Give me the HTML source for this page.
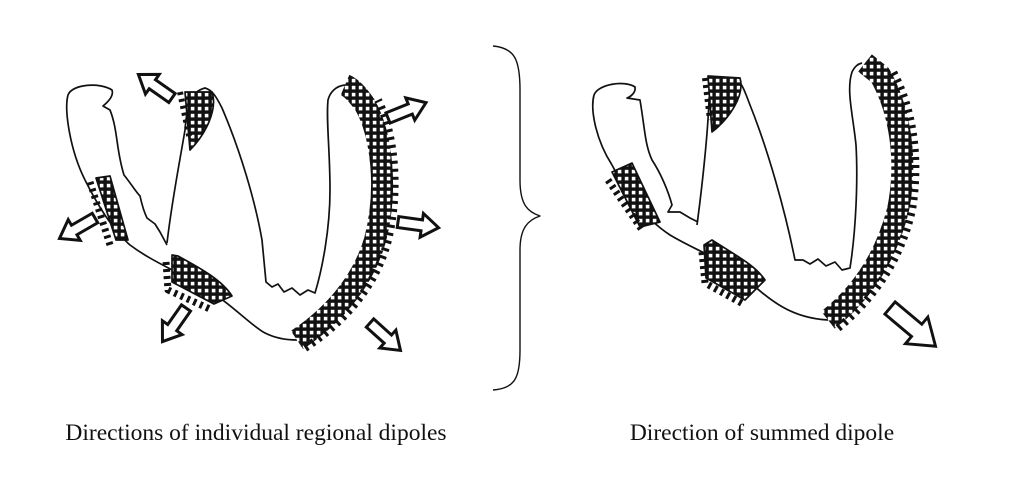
<!DOCTYPE html>
<html><head><meta charset="utf-8"><style>
html,body{margin:0;padding:0;background:#fff;width:1024px;height:483px;overflow:hidden}
svg{position:absolute;left:0;top:0}
.t{font-family:"Liberation Serif",serif;font-size:23.5px;fill:#111}
</style></head><body>
<svg width="1024" height="483" viewBox="0 0 1024 483">
<defs>
<pattern id="g" width="7" height="7" patternUnits="userSpaceOnUse">
<rect width="7" height="7" fill="#111"/><rect x="1.8" y="1.8" width="3.6" height="3.6" fill="#fff"/>
</pattern>
<g id="arr"><path d="M0,-5.5 L24,-5.5 L24,-12 L41,0 L24,12 L24,5.5 L0,5.5 Z" fill="#fff" stroke="#111" stroke-width="3" stroke-linejoin="miter"/></g>
</defs>
<g fill="none" stroke="#111" stroke-width="1.7" stroke-linejoin="round">
<!-- LEFT HEART -->
<path d="M85,180 C70,150 64,110 68,95 C72,84 100,82 112,90 C114,96 108,102 103,106 L110,110 C118,130 116,150 124,175 C132,185 136,192 140,196 C142,205 144,212 147,218 L155,224 L160,232 L167,245"/>
<path d="M85,180 C100,210 115,232 130,245 C150,260 170,268 200,285 C230,302 250,325 265,333 C275,338 285,340 297,340"/>
<path d="M167,243 C172,200 180,160 185,130 C187,105 190,92 205,88 C212,90 216,96 222,108 C240,150 255,200 262,240 L266,282 L272,287 L278,284 L284,292 L292,288 L300,295 L308,290 L315,293 C322,270 330,230 330,190 C330,150 326,120 328,100 C330,92 336,86 345,85"/>
<path d="M297,340 C330,318 362,285 375,240 C388,190 382,135 365,105 C358,95 352,88 345,85" stroke="url(#g)" stroke-width="22"/>
<path d="M305,348 C340,325 375,290 388,240 C400,190 395,135 378,100" stroke="#111" stroke-width="8" stroke-dasharray="3 5"/>
<path d="M185,92 L212,92 C218,110 205,135 190,150 Z" fill="url(#g)" stroke="#111"/>
<path d="M180,92 L190,140" stroke="#111" stroke-width="6" stroke-dasharray="3 4"/>
<path d="M96,178 L110,176 L128,240 L116,240 Z" fill="url(#g)" stroke="#111"/>
<path d="M90,182 L110,245" stroke="#111" stroke-width="7" stroke-dasharray="3 4"/>
<path d="M172,255 L178,256 C200,268 222,280 232,296 L214,304 L172,282 Z" fill="url(#g)" stroke="#111"/>
<path d="M166,262 L168,290 L212,310" stroke="#111" stroke-width="7" stroke-dasharray="3 4"/>
<!-- RIGHT HEART -->
<path d="M612,165 C596,140 590,110 594,95 C598,84 625,80 635,87 C636,93 630,97 627,98 L640,100 C645,130 645,145 652,160 C660,172 668,190 672,205 L668,212 L680,212 L690,218 L698,222"/>
<path d="M612,165 C630,200 650,222 670,235 C695,250 720,258 745,278 C770,300 790,318 828,320"/>
<path d="M697,225 C703,180 708,130 709,100 C710,85 720,76 735,78 C742,82 745,92 750,105 C768,150 785,210 795,260 L803,260 L810,264 L818,259 L826,266 L835,262 L842,270 L850,268 C856,230 858,180 856,145 C853,115 846,90 852,72 C855,66 858,64 862,63"/>
<path d="M828,320 C860,295 885,260 898,210 C908,160 900,110 880,75 L865,63" stroke="url(#g)" stroke-width="22"/>
<path d="M838,328 C872,300 900,262 912,210 C920,160 914,110 892,70" stroke="#111" stroke-width="8" stroke-dasharray="3 5"/>
<path d="M708,76 L740,78 C745,95 730,118 712,132 Z" fill="url(#g)" stroke="#111"/>
<path d="M705,78 L710,120" stroke="#111" stroke-width="6" stroke-dasharray="3 4"/>
<path d="M612,172 L632,163 L660,222 L640,227 Z" fill="url(#g)" stroke="#111"/>
<path d="M608,180 L642,230" stroke="#111" stroke-width="7" stroke-dasharray="3 4"/>
<path d="M704,245 L712,240 C735,255 755,265 765,280 L745,300 L706,278 Z" fill="url(#g)" stroke="#111"/>
<path d="M702,252 L705,283 L745,305" stroke="#111" stroke-width="7" stroke-dasharray="3 4"/>
<!-- bracket -->
<path d="M493,46 C515,48 520,60 520,90 L520,180 C520,205 528,212 540,216 C528,220 520,228 520,250 L520,350 C520,378 515,388 493,390" stroke-width="1.4"/>
</g>
<use href="#arr" transform="translate(172,98) rotate(-145)"/>
<use href="#arr" transform="translate(388,118) rotate(-22)"/>
<use href="#arr" transform="translate(398,222) rotate(8)"/>
<use href="#arr" transform="translate(370,323) rotate(42)"/>
<use href="#arr" transform="translate(186,308) rotate(125)"/>
<use href="#arr" transform="translate(95,218) rotate(150)"/>
<g transform="translate(890,308) rotate(40) scale(1.45)"><path d="M0,-5.5 L24,-5.5 L24,-12 L41,0 L24,12 L24,5.5 L0,5.5 Z" fill="#fff" stroke="#111" stroke-width="2"/></g>
<text class="t" x="256" y="440" text-anchor="middle">Directions of individual regional dipoles</text>
<text class="t" x="762" y="440" text-anchor="middle">Direction of summed dipole</text>
</svg>
</body></html>
